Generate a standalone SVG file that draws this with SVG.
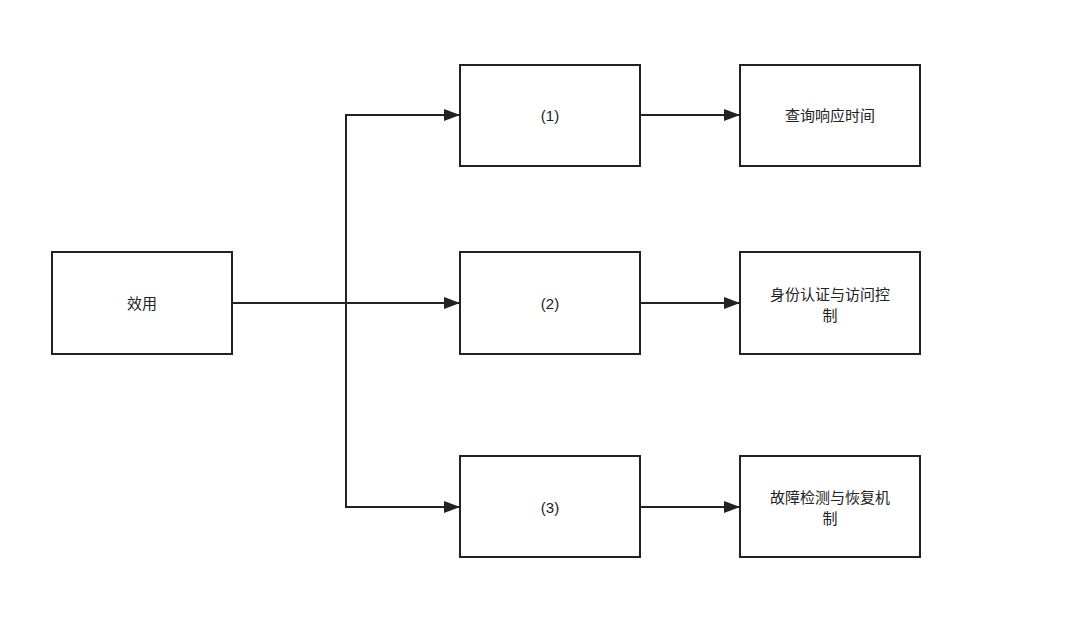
<svg xmlns="http://www.w3.org/2000/svg" width="1080" height="618" viewBox="0 0 1080 618">
<style>
.b{fill:#fff;stroke:#222;stroke-width:2}
.t{font-family:"Liberation Sans","Noto Sans CJK SC",sans-serif;font-size:15px;fill:#222;text-anchor:middle}
.c{fill:none;stroke:#222;stroke-width:2}
</style>
<defs><marker id="a" markerWidth="16" markerHeight="12" refX="15" refY="6" orient="auto" markerUnits="userSpaceOnUse"><path d="M0,0 L16,6 L0,12 Z" fill="#222"/></marker></defs>
<rect width="1080" height="618" fill="#fff"/>
<g id="connectors">
<path class="c" d="M232,303 H459" marker-end="url(#a)"/>
<path class="c" d="M346,303 V115 H459" marker-end="url(#a)"/>
<path class="c" d="M346,303 V507 H459" marker-end="url(#a)"/>
<path class="c" d="M640,115 H739" marker-end="url(#a)"/>
<path class="c" d="M640,303 H739" marker-end="url(#a)"/>
<path class="c" d="M640,507 H739" marker-end="url(#a)"/>
</g>
<g id="n0"><rect class="b" x="52" y="252" width="180" height="102"/><text class="t" x="142" y="309">效用</text></g>
<g id="n1"><rect class="b" x="460" y="65" width="180" height="101"/><text class="t" x="550" y="121">(1)</text></g>
<g id="n2"><rect class="b" x="460" y="252" width="180" height="102"/><text class="t" x="550" y="309">(2)</text></g>
<g id="n3"><rect class="b" x="460" y="456" width="180" height="101"/><text class="t" x="550" y="513">(3)</text></g>
<g id="n4"><rect class="b" x="740" y="65" width="180" height="101"/><text class="t" x="830" y="121">查询响应时间</text></g>
<g id="n5"><rect class="b" x="740" y="252" width="180" height="102"/><text class="t" x="830" y="300">身份认证与访问控</text><text class="t" x="830" y="321">制</text></g>
<g id="n6"><rect class="b" x="740" y="456" width="180" height="101"/><text class="t" x="830" y="503">故障检测与恢复机</text><text class="t" x="830" y="524">制</text></g>
</svg>
